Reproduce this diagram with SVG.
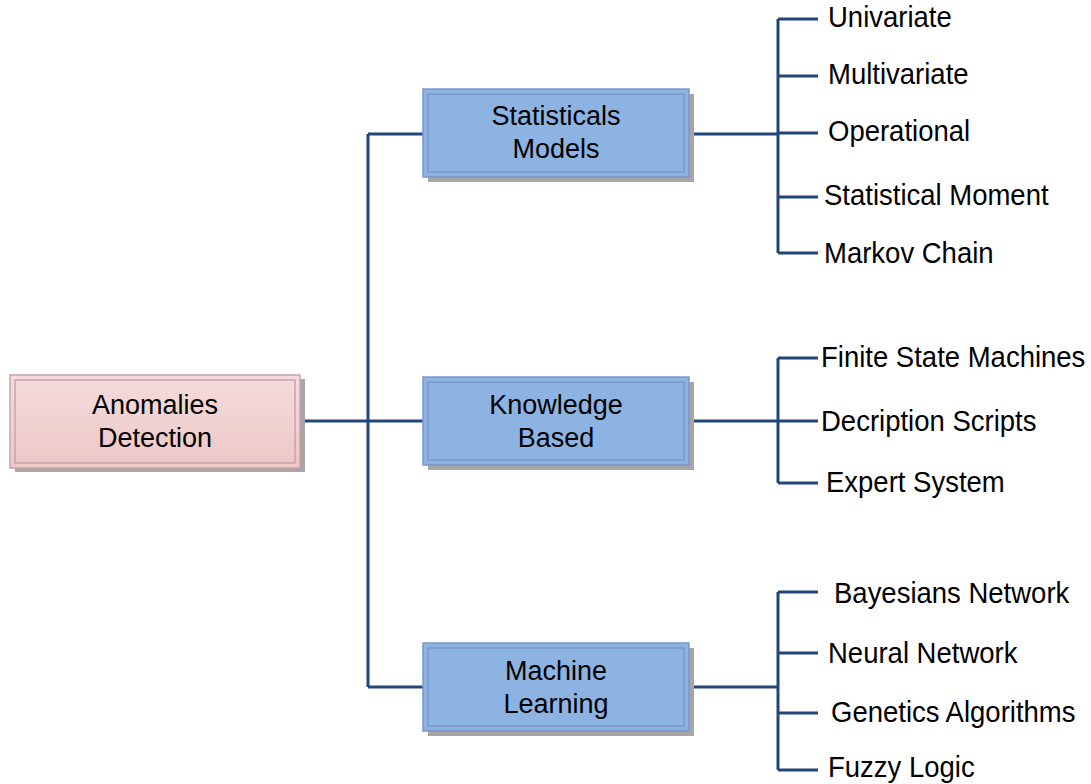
<svg xmlns="http://www.w3.org/2000/svg" width="1091" height="784" viewBox="0 0 1091 784">
<style>
.shadow{fill:#a6a6a6;}
.pink{fill:url(#gp);stroke:#c9a3ad;stroke-width:1.5;}
.pinkin{fill:none;stroke:#c9a3ad;stroke-width:1.5;}
.blue{fill:#8db3e2;stroke:#7b97c9;stroke-width:1.5;}
.bluein{fill:none;stroke:#7b97c9;stroke-width:1.5;}
.bt{font-family:"Liberation Sans",Arial,sans-serif;font-size:27px;fill:#000;text-anchor:middle;}
.lt{font-family:"Liberation Sans",Arial,sans-serif;font-size:27.5px;fill:#000;}
.c{fill:none;stroke:#23467a;stroke-width:3;}
</style>
<defs>
<linearGradient id="gp" x1="0" y1="0" x2="0" y2="1">
<stop offset="0" stop-color="#f5dcdc"/>
<stop offset="1" stop-color="#eec7c7"/>
</linearGradient>
</defs>
<g id="connectors">
<path class="c" d="M300 421H425M368 134V687M368 134H425M368 687H425"/>
<path class="c" d="M689 134H778M778 19V253M778 19H818M778 76H818M778 133H818M778 197H818M778 253H818"/>
<path class="c" d="M689 421H778M778 358V483M778 358H818M778 421H818M778 483H818"/>
<path class="c" d="M689 687H778M778 592V770M778 592H818M778 653H818M778 713H818M778 770H818"/>
</g>
<g id="anomalies">
<rect class="shadow" x="15" y="379" width="290" height="93"/>
<rect class="pink" x="10" y="375" width="290" height="93"/>
<rect class="pinkin" x="15" y="380" width="280" height="83"/>
<text class="bt" x="155" y="414">Anomalies</text>
<text class="bt" x="155" y="447">Detection</text>
</g>
<g id="statisticals">
<rect class="shadow" x="428" y="94" width="266" height="88"/>
<rect class="blue" x="423" y="89" width="266" height="88"/>
<rect class="bluein" x="428" y="94" width="256" height="78"/>
<text class="bt" x="556" y="125">Statisticals</text>
<text class="bt" x="556" y="158">Models</text>
</g>
<g id="knowledge">
<rect class="shadow" x="428" y="382" width="266" height="88"/>
<rect class="blue" x="423" y="377" width="266" height="88"/>
<rect class="bluein" x="428" y="382" width="256" height="78"/>
<text class="bt" x="556" y="414">Knowledge</text>
<text class="bt" x="556" y="447">Based</text>
</g>
<g id="machine">
<rect class="shadow" x="428" y="648" width="266" height="88"/>
<rect class="blue" x="423" y="643" width="266" height="88"/>
<rect class="bluein" x="428" y="648" width="256" height="78"/>
<text class="bt" x="556" y="680">Machine</text>
<text class="bt" x="556" y="713">Learning</text>
</g>
<g id="leaves">
<text class="lt" transform="translate(828,27) scale(1,1.06)">Univariate</text>
<text class="lt" transform="translate(828,84) scale(1,1.06)">Multivariate</text>
<text class="lt" transform="translate(828,141) scale(1,1.06)">Operational</text>
<text class="lt" transform="translate(824,205) scale(1,1.06)">Statistical Moment</text>
<text class="lt" transform="translate(824,263) scale(1,1.06)">Markov Chain</text>
<text class="lt" transform="translate(821,367) scale(1,1.06)">Finite State Machines</text>
<text class="lt" transform="translate(821,431) scale(1,1.06)">Decription Scripts</text>
<text class="lt" transform="translate(826,492) scale(1,1.06)">Expert System</text>
<text class="lt" transform="translate(834,603) scale(1,1.06)">Bayesians Network</text>
<text class="lt" transform="translate(828,663) scale(1,1.06)">Neural Network</text>
<text class="lt" transform="translate(831,722) scale(1,1.06)">Genetics Algorithms</text>
<text class="lt" transform="translate(828,777) scale(1,1.06)">Fuzzy Logic</text>
</g>
</svg>
